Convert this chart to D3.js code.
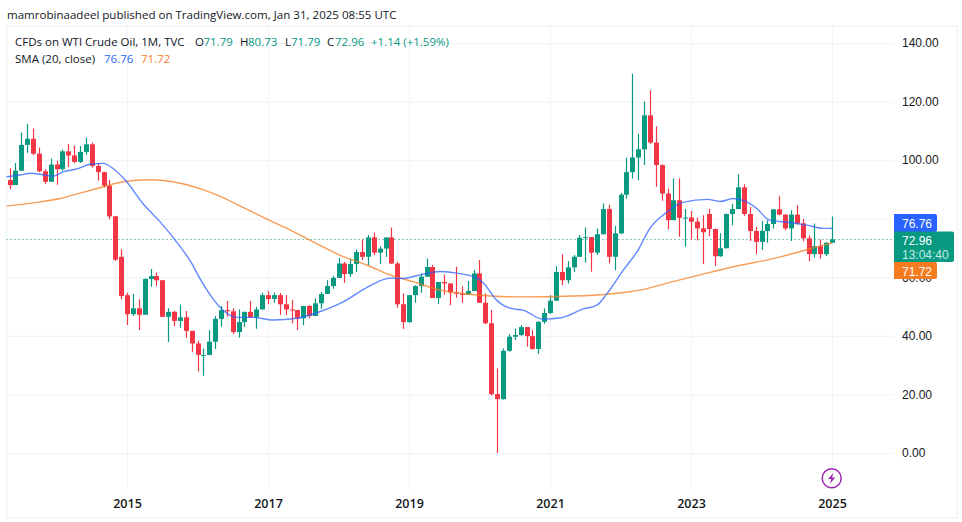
<!DOCTYPE html>
<html>
<head>
<meta charset="utf-8">
<script src="https://cdn.jsdelivr.net/npm/d3@7"></script>
<style>
  html, body { margin: 0; padding: 0; background: #fff; }
  svg { display: block; font-family: "Open Sans", sans-serif; }
  text { fill: #131722; }
</style>
</head>
<body>
<svg class="oil-chart" width="962" height="522"></svg>
<script>
// monthly candles, May 2013 .. Jan 2025
const opens = [93.2, 91.5, 96.4, 105.2, 107.3, 102.2, 96.2, 92.6, 98.5, 96.9, 103, 101.6, 99.4, 102.8, 105.4, 98, 95.9, 91.3, 80.8, 67,
  53.9, 47.4, 49.4, 47.2, 59.4, 60.4, 59, 46.5, 48.2, 45.1, 46.3, 41.7, 37.4, 33.5, 33.5, 38, 45.8, 48.8, 48.4, 41.3, 44.7, 48.2, 46.3, 49, 53.9, 52.6, 53.9, 50.8, 49, 48.8,
  46, 50.2, 46.8, 51.1, 54.3, 57, 59.8, 64.7, 61.1, 64.5, 68.6, 67, 73.6, 68.4, 69.8, 73.6, 64.7, 50.8, 44.7, 53.9, 57, 60.2, 63.5, 52.9, 58.4, 57.9, 54.8, 54.4, 54, 55.3,
  61.3, 51.3, 44.3, 20.1, 18.4, 34.9, 39.7, 40.3, 43, 39.9, 35.5, 44.8, 47.8, 52, 61.8, 59, 63.4, 67, 73.5, 73.7, 68.4, 74.7, 83.3, 67, 75, 88.2, 95.9, 100.9, 103.7, 115.3,
  106, 98.3, 88.6, 79.5, 86.3, 80.3, 80.4, 79, 76.7, 81.6, 76.5, 67.2, 69.9, 81.6, 83.3, 90.7, 81.6, 75.8, 72.1, 75.8, 78.2, 83.2, 81.4, 76.7, 81.4, 78.4, 73.3, 67.9, 70.6, 67.9, 71.79];
const highs = [97.2, 99, 109.4, 112.3, 110.8, 104.3, 96.9, 100.6, 99.8, 103.6, 105.5, 105, 104.8, 107.7, 106, 98.9, 96, 93.2, 81, 69.6,
  54.7, 54.3, 52.5, 59.7, 62.8, 61.6, 59, 49.4, 48.6, 50.7, 48.5, 41.7, 38.3, 35.7, 42, 46.8, 50.2, 51.9, 49.4, 49, 48.2, 51.9, 49.9, 54.7, 55.3, 54.8, 54.7, 53.9, 52.2, 48.9,
  50.2, 50.5, 52.8, 55, 59, 60.5, 66.7, 65.3, 66.4, 69.5, 72.9, 74.4, 75.3, 70.6, 73.6, 77, 65.3, 54.5, 53.9, 57.3, 61.3, 66.4, 64.2, 58.3, 60.9, 57.9, 63.6, 56.9, 58.7, 62.5,
  65.9, 54.5, 48.8, 28.9, 35.7, 40.6, 42.5, 43.7, 43, 42, 45, 49.4, 53.9, 63.8, 67.9, 65.5, 67.6, 74.4, 77, 73.7, 76.7, 85.2, 84.8, 77.5, 88.8, 100.9, 129.5, 109, 120, 123.9,
  111.6, 98.6, 90.3, 93.7, 93.7, 83.3, 82.6, 80.4, 81.2, 83.4, 76.6, 75, 81.8, 85, 95.2, 91.8, 84, 77.2, 79.2, 79.5, 83.2, 87.7, 81.4, 82.9, 84.6, 80, 74.3, 78.4, 72.9, 72, 80.73];
const lows = [90.1, 91.5, 96.3, 102.5, 101.7, 95.9, 91.8, 92.6, 91.6, 96.4, 97.7, 99, 99, 101.8, 97.4, 93, 90.7, 79.8, 65.6, 52.5,
  43.7, 46.8, 42, 47.2, 56.8, 57, 46.5, 37.9, 43.3, 42.8, 39.3, 34.6, 27.8, 26.4, 33.4, 35.5, 43.1, 46.5, 40.6, 39.4, 43.1, 46.3, 42.4, 49, 50.8, 51.3, 47.2, 47.1, 44.3, 42,
  43.6, 46, 46.8, 49.2, 54.3, 56.1, 59.8, 58.1, 60.2, 61.8, 65.9, 64.2, 67.6, 64.5, 67, 64.6, 49.6, 42.4, 44.5, 51.3, 54.7, 60.2, 53.4, 50.8, 54.1, 50.5, 53, 51.3, 54, 55.3,
  51.3, 44, 19.6, 0, 18.2, 34.6, 38.6, 39.9, 36.3, 35.3, 33.8, 44.1, 47.5, 52, 57.3, 57.9, 61.8, 67, 65, 61.9, 67.6, 74.7, 64.7, 62.4, 74.7, 86.8, 93.7, 93.2, 98.3, 105.5,
  90.9, 86.1, 76.4, 79.5, 73.8, 70.4, 72.9, 72.6, 64.5, 74, 63.9, 67, 69.9, 77.8, 83.3, 81, 72.4, 67.9, 69.3, 71.8, 76.7, 81.2, 76.1, 72.4, 78, 72.3, 65.5, 66.7, 66.4, 67.2, 71.79];
const closes = [91.5, 96.4, 105.2, 107.3, 102.2, 96.2, 92.6, 98.5, 96.9, 103, 101.6, 99.4, 102.8, 105.4, 98, 95.9, 91.3, 80.8, 66, 53.6,
  47.4, 49.4, 47.2, 59.4, 60.4, 59, 46.5, 48.2, 45.1, 46.3, 41.7, 37.4, 33.5, 33.5, 38, 45.8, 48.8, 48.4, 41.3, 44.7, 48.2, 46.3, 49, 53.9, 52.6, 53.9, 50.8, 49, 48.8, 46,
  50.2, 46.8, 51.1, 54.3, 57, 59.8, 64.7, 61.1, 64.5, 68.6, 67, 73.6, 68.4, 69.8, 73.6, 64.7, 50.8, 44.7, 53.9, 57, 60.2, 63.5, 52.9, 58.4, 57.9, 54.8, 54.4, 54, 55.3, 61.3,
  51.3, 44.3, 20.1, 18.4, 34.9, 39.7, 40.3, 43, 39.9, 35.5, 44.8, 47.8, 52, 61.8, 59, 63.4, 67, 73.5, 73.7, 68.4, 74.7, 83.3, 67, 75, 88.2, 95.9, 100.9, 103.7, 115.3, 106,
  98.3, 88.6, 79.5, 86.3, 80.3, 80.4, 79, 76.7, 75.4, 76.5, 67.2, 69.9, 81.6, 83.3, 90.7, 81.6, 75.8, 72.1, 75.8, 78.2, 83.2, 81.4, 76.7, 81.4, 78.4, 73.3, 67.9, 70.6, 67.9, 71.79, 72.96];

// sma lines: month offset from May 2013, price
const blueMonths = [-1, 2, 3.5, 5.7, 7.4, 9.1, 11.5, 13.7, 16, 17, 19.7, 22.7, 25.6, 28.2, 31, 32.4, 34.4, 36.3, 38.7, 41.5, 44.9, 48.9, 52.3, 56.8, 60.8, 64.8, 67, 70.4, 73.3, 75.8, 79.5, 80.7, 82.9, 84, 85.7, 87.4, 90.8, 93.9, 97.7, 100, 101.7, 104.5, 107, 109, 111.6, 114.6, 118.8, 121, 123.2, 125.2, 127.2, 129.4, 132.9, 135.7, 138.5, 140];
const blueValues = [94.2, 95, 95.5, 95, 94.5, 96, 97, 98.6, 98.9, 98, 93.2, 85.2, 79, 72.7, 64.8, 59.6, 53.3, 48.8, 46.3, 46.3, 45.4, 46, 47.9, 51.6, 56.5, 59.7, 59.6, 61.1, 62, 61.5, 59.8, 58, 52.2, 50.5, 49.2, 48.8, 45.7, 46.2, 49.2, 50.5, 54.4, 62.5, 69.3, 76.7, 81.8, 85.6, 86.6, 85.9, 86.9, 86, 83.5, 79.5, 78.7, 77.8, 76.7, 76.76];
const orangeMonths = [-1, 4, 8.6, 12.5, 16, 19.3, 23.9, 27.8, 32.4, 35.8, 39.2, 44, 47.8, 51.1, 56.2, 60.8, 64.8, 68.7, 73.3, 77.9, 82, 86.9, 96, 101.7, 107.3, 112.9, 117.5, 123.2, 130.7, 135.8, 138.5, 140];
const orangeValues = [84.2, 85.4, 86.9, 89, 90.9, 92.6, 93.3, 92.6, 90.3, 87.7, 84.4, 79.7, 76.1, 72.7, 67.6, 64.2, 60.8, 58.5, 55.6, 54.3, 53.6, 53.3, 53.6, 54.2, 55.6, 58.5, 60.8, 63.6, 66.7, 69.5, 70.9, 71.72];

const priceTicks = [0, 20, 40, 60, 80, 100, 120, 140];
const yearMonths = [20, 44, 68, 92, 116, 140];
const yearLabels = ['2015', '2017', '2019', '2021', '2023', '2025'];

const publishedText = 'mamrobinaadeel published on TradingView.com, Jan 31, 2025 08:55 UTC';
const greenColor = '#089981';
const redColor = '#f23645';
const blueColor = '#2962ff';
const orangeColor = '#f57c1f';

let svg = d3.select('svg.oil-chart');

let x = d3.scaleLinear().domain([0, 140]).range([9.5, 832]);
let y = d3.scaleLinear().domain([0, 140]).range([453, 43]);

svg.append('defs').append('clipPath')
  .attr('id', 'pane')
  .append('rect')
  .attr('x', 6.5)
  .attr('y', 26)
  .attr('width', 887)
  .attr('height', 464);

// outer frame
svg.append('rect')
  .attr('x', 6.5)
  .attr('y', 26)
  .attr('width', 951)
  .attr('height', 492)
  .attr('fill', '#fff')
  .attr('stroke', '#f0f3fa')
  .attr('stroke-width', 1.5);

svg.append('text')
  .attr('x', 7)
  .attr('y', 19)
  .attr('font-size', 11.55)
  .text(publishedText);

// price axis with the horizontal grid, the 80.00 label sits under the blue tag
let priceAxis = svg.append('g')
  .attr('transform', 'translate(893,0)')
  .call(d3.axisRight(y).tickValues(priceTicks).tickFormat(d => d === 80 ? '' : d.toFixed(2)).tickSize(0).tickPadding(9));
priceAxis.select('.domain').remove();
priceAxis.selectAll('text')
  .attr('font-family', '"Liberation Sans", sans-serif')
  .attr('font-size', 12)
  .style('fill', '#131722');
priceAxis.selectAll('.tick').append('line')
  .attr('x1', -886.5)
  .attr('x2', 0)
  .attr('stroke', '#f0f3fa');

// year axis with the vertical grid
let yearAxis = svg.append('g')
  .attr('transform', 'translate(0,490)')
  .call(d3.axisBottom(x).tickValues(yearMonths).tickFormat((d, i) => yearLabels[i]).tickSize(0).tickPadding(9));
yearAxis.select('.domain').remove();
yearAxis.selectAll('text')
  .attr('font-family', '"Open Sans", sans-serif')
  .attr('font-size', 12.5)
  .attr('font-weight', 600)
  .style('fill', '#131722');
yearAxis.selectAll('.tick').append('line')
  .attr('y1', -464)
  .attr('y2', 0)
  .attr('stroke', '#f0f3fa');

let pane = svg.append('g').attr('clip-path', 'url(#pane)');

// last price line
pane.append('line')
  .attr('x1', 6.5)
  .attr('x2', 893)
  .attr('y1', Math.round(y(72.96)) + 0.5)
  .attr('y2', Math.round(y(72.96)) + 0.5)
  .attr('stroke', greenColor)
  .attr('stroke-dasharray', '1 3');

// candles
let candles = pane.selectAll('g.candle')
  .data(opens.map((o, i) => ({ i, o, h: highs[i], l: lows[i], c: closes[i] })))
  .join('g')
  .attr('class', 'candle')
  .attr('fill', d => d.c >= d.o ? greenColor : redColor)
  .attr('stroke', d => d.c >= d.o ? greenColor : redColor);

candles.append('line')
  .attr('x1', d => Math.round(x(d.i)) + 0.5)
  .attr('x2', d => Math.round(x(d.i)) + 0.5)
  .attr('y1', d => y(d.h))
  .attr('y2', d => y(d.l))
  .attr('stroke-width', 1.2);

candles.append('rect')
  .attr('x', d => Math.round(x(d.i)) - 2)
  .attr('width', 5)
  .attr('y', d => y(Math.max(d.o, d.c)))
  .attr('height', d => Math.max(1, Math.abs(y(d.o) - y(d.c))))
  .attr('stroke', 'none');

// sma lines
let line = d3.line()
  .x(d => x(d[0]))
  .y(d => y(d[1]))
  .curve(d3.curveMonotoneX);

pane.append('path')
  .datum(orangeMonths.map((m, i) => [m, orangeValues[i]]))
  .attr('fill', 'none')
  .attr('stroke', orangeColor)
  .attr('stroke-opacity', 0.75)
  .attr('stroke-width', 1.4)
  .attr('d', line);

pane.append('path')
  .datum(blueMonths.map((m, i) => [m, blueValues[i]]))
  .attr('fill', 'none')
  .attr('stroke', blueColor)
  .attr('stroke-opacity', 0.75)
  .attr('stroke-width', 1.4)
  .attr('d', line);

// legend, two rows
function legendText(px, py, str, color) {
  svg.append('text')
    .attr('x', px)
    .attr('y', py)
    .attr('font-size', 11.5)
    .style('fill', color)
    .text(str);
}

legendText(15, 46, 'CFDs on WTI Crude Oil, 1M, TVC', '#131722');
legendText(195, 46, 'O', '#131722');
legendText(203.5, 46, '71.79', greenColor);
legendText(240, 46, 'H', '#131722');
legendText(248, 46, '80.73', greenColor);
legendText(285, 46, 'L', '#131722');
legendText(291, 46, '71.79', greenColor);
legendText(327, 46, 'C', '#131722');
legendText(335, 46, '72.96', greenColor);
legendText(371, 46, '+1.14 (+1.59%)', greenColor);
legendText(15, 63, 'SMA (20, close)', '#131722');
legendText(104, 63, '76.76', blueColor);
legendText(141, 63, '71.72', orangeColor);

// price tags on the axis
function priceTag(top, height, width, color) {
  svg.append('path')
    .attr('d', `M894,${top}H${894 + width - 2}q2,0 2,2V${top + height - 2}q0,2 -2,2H894Z`)
    .attr('fill', color);
}

priceTag(214, 18, 43, blueColor);
priceTag(262, 17, 43, orangeColor);
priceTag(231.5, 30.5, 60, greenColor);

function tagText(py, str, color) {
  svg.append('text')
    .attr('x', 902)
    .attr('y', py)
    .attr('font-family', '"Liberation Sans", sans-serif')
    .attr('font-size', 12)
    .style('fill', color)
    .text(str);
}

tagText(227.5, '76.76', '#fff');
tagText(245, '72.96', '#fff');
tagText(258.5, '13:04:40', '#c4ebe4');
tagText(275.5, '71.72', '#fff');

// lightning badge
let badge = svg.append('g').attr('transform', 'translate(831.7,478.3)');
badge.append('circle')
  .attr('r', 9.5)
  .attr('fill', '#fff')
  .attr('stroke', '#9c27b0')
  .attr('stroke-width', 1.5);
badge.append('path')
  .attr('d', 'M1.8,-5.5 L-3.6,0.8 H-0.4 L-1.8,5.5 L3.6,-0.8 H0.4 Z')
  .attr('fill', '#9c27b0');
</script>
</body>
</html>
